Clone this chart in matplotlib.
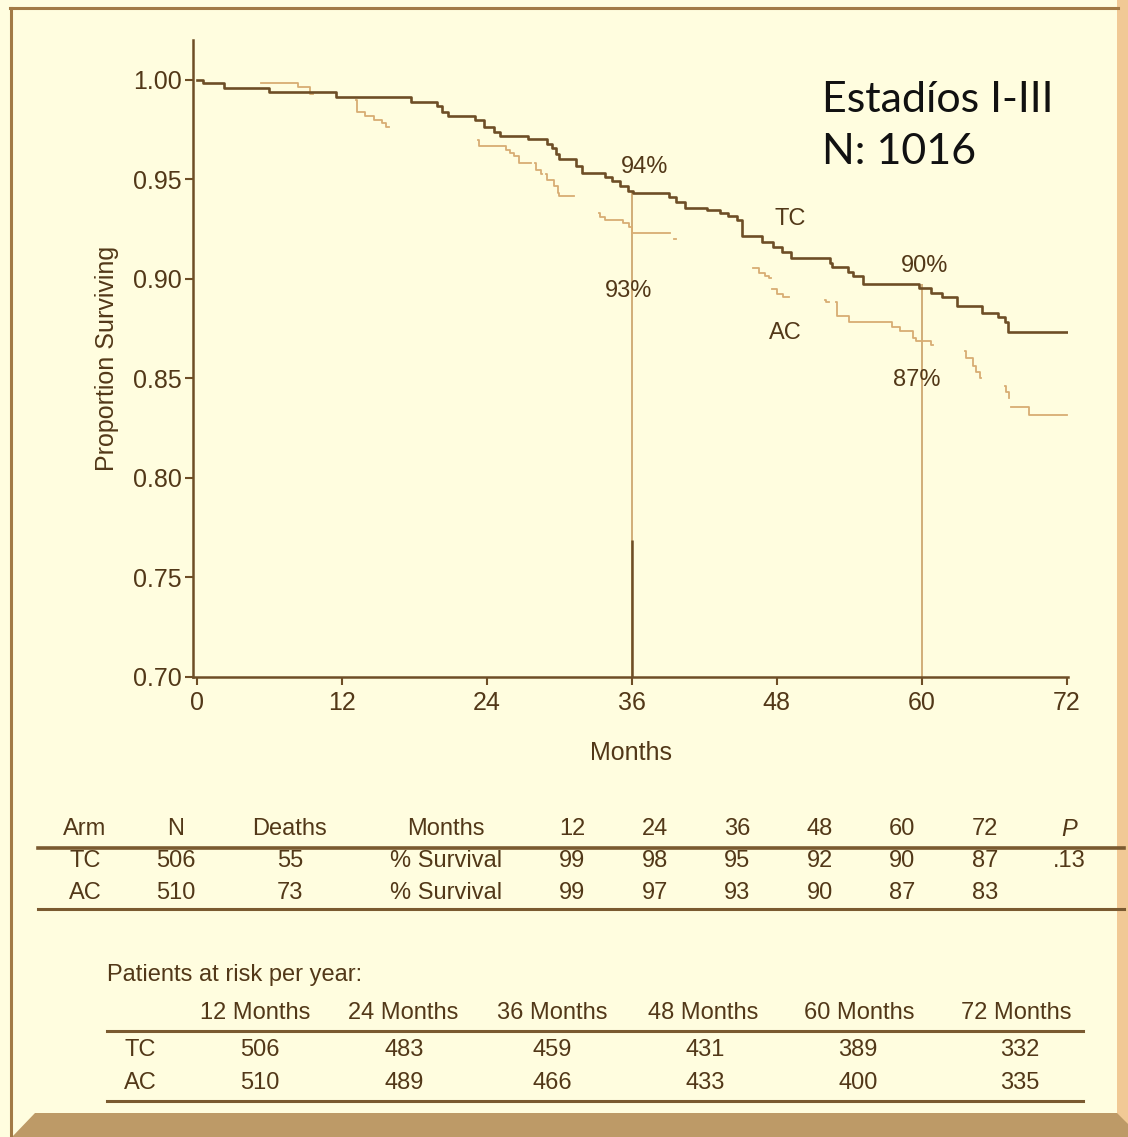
import numpy as np
import matplotlib.pyplot as plt
from matplotlib.patches import Rectangle, Polygon
from matplotlib.lines import Line2D

W, H = 1128, 1137

# Kaplan-Meier steps (month of drop, proportion after drop)
tc_months = [0, 0.5, 2.3, 6.0, 11.5, 17.7, 19.9, 20.3, 20.8, 23.0, 23.8, 24.6, 25.1,
             27.4, 29.0, 29.4, 29.7, 30.0, 31.4, 31.9, 33.8, 34.4, 35.0, 35.7, 36.1,
             39.1, 39.7, 40.4, 42.2, 43.3, 44.0, 44.7, 45.1, 46.8, 47.7, 48.4, 49.2,
             52.4, 52.6, 53.9, 54.3, 55.1, 59.8, 60.8, 61.7, 62.9, 65.0, 66.3, 66.9, 67.1]
tc_surv = [1.000, 0.9986, 0.9961, 0.9938, 0.9916, 0.9891, 0.9866, 0.9840, 0.9816,
           0.9799, 0.9765, 0.9740, 0.9719, 0.9702, 0.9680, 0.9655, 0.9628, 0.9601,
           0.9565, 0.9531, 0.9510, 0.9490, 0.9465, 0.9439, 0.9432, 0.9410, 0.9385,
           0.9357, 0.9345, 0.9332, 0.9315, 0.9296, 0.9213, 0.9187, 0.9160, 0.9137,
           0.9104, 0.9080, 0.9059, 0.9035, 0.9012, 0.8975, 0.8953, 0.8930, 0.8908,
           0.8864, 0.8831, 0.8810, 0.8785, 0.8735]

ac_months = [0, 0.5, 8.4, 9.4, 12.0, 13.3, 13.9, 14.7, 15.3, 15.7, 20.0, 22.0, 23.4,
             25.6, 25.9, 26.3, 26.7, 28.1, 28.5, 29.0, 29.6, 29.9, 30.0, 31.5, 32.5,
             33.4, 33.8, 35.3, 35.8, 36.0, 39.5, 41.0, 43.0, 46.0, 46.5, 47.0, 47.4,
             47.6, 48.0, 48.5, 50.0, 52.1, 53.0, 54.0, 57.5, 58.2, 59.3, 59.5, 60.8,
             62.0, 63.7, 64.2, 64.5, 64.8, 66.0, 67.0, 67.2, 67.4, 68.9]
ac_surv = [1.000, 0.9986, 0.9966, 0.9930, 0.9900, 0.9838, 0.9816, 0.9800, 0.9782,
           0.9765, 0.9740, 0.9698, 0.9665, 0.9648, 0.9632, 0.9615, 0.9581, 0.9548,
           0.9527, 0.9497, 0.9467, 0.9432, 0.9414, 0.9380, 0.9330, 0.9313, 0.9296,
           0.9280, 0.9263, 0.9230, 0.9200, 0.9150, 0.9100, 0.9054, 0.9030, 0.9015,
           0.9004, 0.8948, 0.8923, 0.8908, 0.8895, 0.8886, 0.8811, 0.8785, 0.8760,
           0.8740, 0.8702, 0.8690, 0.8668, 0.8640, 0.8601, 0.8560, 0.8530, 0.8501,
           0.8460, 0.8434, 0.8400, 0.8358, 0.8317]
# parts of the AC curve that show in the scanned figure
ac_visible = [(5.3, 9.6), (13.2, 15.9), (23.3, 27.7), (28.0, 28.6), (28.9, 31.2),
              (33.3, 39.2), (39.5, 39.7), (46.0, 47.5), (47.6, 49.0), (52.0, 52.3),
              (52.9, 60.9), (63.6, 64.9), (66.9, 67.2), (67.4, 72.0)]

end_month = 72

table_head = ['Arm', 'N', 'Deaths', 'Months', '12', '24', '36', '48', '60', '72', 'P']
table_rows = [['TC', '506', '55', '% Survival', '99', '98', '95', '92', '90', '87', '.13'],
              ['AC', '510', '73', '% Survival', '99', '97', '93', '90', '87', '83', '']]

risk_head = ['12 Months', '24 Months', '36 Months', '48 Months', '60 Months', '72 Months']
risk_arms = ['TC', 'AC']
risk_tc = [506, 483, 459, 431, 389, 332]
risk_ac = [510, 489, 466, 433, 400, 335]

cream = '#fffddf'
dark = '#6e4e26'
light = '#d8ad73'
txt = '#523818'


def fx(px):
    return px / W


def fy(py):
    return 1 - py / H


def step_val(months, surv, t):
    i = np.searchsorted(months, t, side='right') - 1
    return np.asarray(surv)[i]


plt.rcParams['font.family'] = ['Liberation Sans', 'DejaVu Sans']

fig = plt.figure(figsize=(W / 100, H / 100), dpi=100, facecolor=cream)

# frame
fig.patches.append(Rectangle((fx(1117), 0), fx(11), 1, transform=fig.transFigure,
                             facecolor='#f1c995', edgecolor='none', zorder=0))
fig.patches.append(Polygon([(fx(12), 0), (fx(35), fy(1113)), (fx(1117), fy(1113)),
                            (fx(1128), fy(1124)), (fx(1128), 0)], closed=True,
                           transform=fig.transFigure, facecolor='#bd9a67',
                           edgecolor='none', zorder=0))
fig.lines.append(Line2D([fx(11), fx(11)], [0, fy(8)], transform=fig.transFigure,
                        color='#a27a45', lw=2.2))
fig.lines.append(Line2D([fx(10), fx(1118)], [fy(8), fy(8)], transform=fig.transFigure,
                        color='#a27a45', lw=2.2))

ax = fig.add_axes([fx(193), fy(677), fx(875), (677 - 40) / H])
ax.set_facecolor('none')

# TC curve
tc_x = np.append(tc_months, end_month)
tc_y = np.append(tc_surv, tc_surv[-1])
ax.step(tc_x, tc_y, where='post', color=dark, lw=1.9, zorder=3)

# AC curve, drawn piece by piece
ac_m = np.array(ac_months)
for a, b in ac_visible:
    inside = ac_m[(ac_m > a) & (ac_m < b)]
    ts = np.concatenate([[a], inside, [b]])
    vs = step_val(ac_months, ac_surv, ts)
    ax.step(ts, vs, where='post', color=light, lw=1.3, zorder=2)

# reference lines at 36 and 60 months
ax.vlines(36, 0.70, step_val(tc_months, tc_surv, 36.0), color='#c9a066', lw=1.2, zorder=1)
ax.vlines(36, 0.70, 0.769, color=dark, lw=1.8, zorder=2)
ax.vlines(60, 0.70, step_val(tc_months, tc_surv, 59.7), color='#c9a066', lw=1.2, zorder=1)

lab = dict(color=txt, fontsize=17, ha='center', va='center')
ax.text(37.1, 0.956, '94%', **lab)
ax.text(35.7, 0.894, '93%', **lab)
ax.text(49.1, 0.930, 'TC', **lab)
ax.text(48.7, 0.873, 'AC', **lab)
ax.text(60.2, 0.9065, '90%', **lab)
ax.text(59.6, 0.849, '87%', **lab)

ax.set_xlim(-0.3, 72.1)
ax.set_ylim(0.70, 1.02)
ax.set_xticks([0, 12, 24, 36, 48, 60, 72])
ax.set_yticks([0.70, 0.75, 0.80, 0.85, 0.90, 0.95, 1.00])
ax.set_yticklabels(['%.2f' % v for v in ax.get_yticks()])
for s in ['top', 'right']:
    ax.spines[s].set_visible(False)
for s in ['left', 'bottom']:
    ax.spines[s].set_color(dark)
    ax.spines[s].set_linewidth(1.8)
ax.tick_params(colors=dark, labelcolor=txt, labelsize=18, length=6, width=1.5)
ax.tick_params(axis='x', pad=4)
ax.tick_params(axis='y', pad=2)
ax.set_xlabel('Months', fontsize=18, color=txt, labelpad=19)
ax.set_ylabel('Proportion Surviving', fontsize=18, color=txt, labelpad=10)

big = dict(fontsize=31, family=['Lato', 'DejaVu Sans'], color='#111111', ha='left',
           va='baseline')
fig.text(fx(822), fy(112), 'Estadíos I-III', **big)
fig.text(fx(822), fy(164), 'N: 1016', **big)

# summary table
col_x = [85, 176, 290, 446, 572, 655, 737, 820, 902, 985, 1069]
for j, h in enumerate(table_head):
    fig.text(fx(col_x[j]), fy(829), h, fontsize=17, color=txt, ha='center', va='center',
             style='italic' if h == 'P' else 'normal')
for i, row in enumerate(table_rows):
    for j, v in enumerate(row):
        fig.text(fx(col_x[j]), fy(861 + 32 * i), v, fontsize=17, color=txt,
                 ha='center', va='center')
for py, lw in [(848, 2.6), (909, 2.2)]:
    fig.lines.append(Line2D([fx(38), fx(1124)], [fy(py), fy(py)], transform=fig.transFigure,
                            color='#7a5a30', lw=lw))

# patients at risk
fig.text(fx(107), fy(975), 'Patients at risk per year:', fontsize=17, color=txt,
         ha='left', va='center')
head_x = [255, 403, 552, 703, 859, 1016]
val_x = [260, 404, 552, 705, 858, 1020]
for j, h in enumerate(risk_head):
    fig.text(fx(head_x[j]), fy(1013), h, fontsize=17, color=txt, ha='center', va='center')
for i, (arm, vals) in enumerate(zip(risk_arms, [risk_tc, risk_ac])):
    fig.text(fx(140), fy(1050 + 33 * i), arm, fontsize=17, color=txt, ha='center', va='center')
    for j, v in enumerate(vals):
        fig.text(fx(val_x[j]), fy(1050 + 33 * i), str(v), fontsize=17, color=txt,
                 ha='center', va='center')
for py in [1031, 1101]:
    fig.lines.append(Line2D([fx(107), fx(1083)], [fy(py), fy(py)], transform=fig.transFigure,
                            color='#7a5a30', lw=2.2))

fig.savefig('out.png', dpi=100, facecolor=cream)
